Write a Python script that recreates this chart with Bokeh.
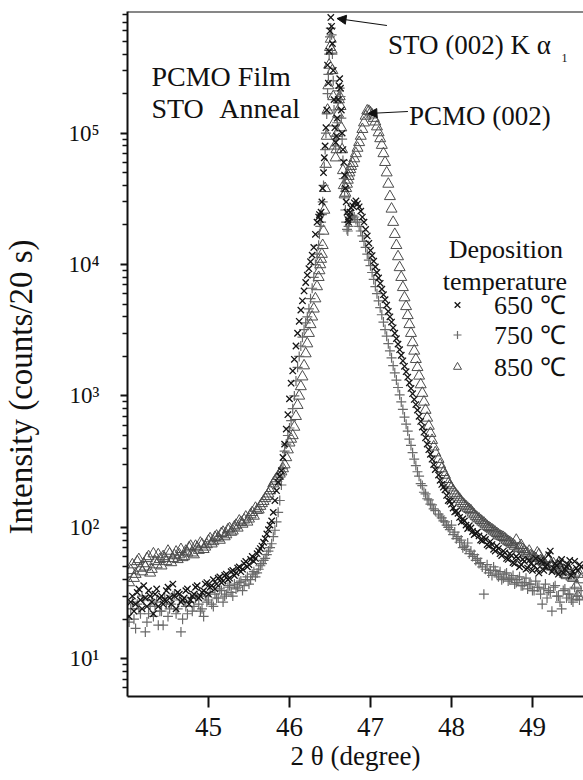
import numpy as np
from bokeh.plotting import figure
from bokeh.models import (Range1d, FixedTicker, CustomJSTickFormatter, Label, Arrow,
                          NormalHead, Span, Legend, LegendItem)
from bokeh.embed import file_html
from bokeh.resources import INLINE

# ---------------- data (2θ scan segments) ----------------
x_a = np.linspace(44.02, 45.78, 45)    # step 0.04
x_a2 = np.linspace(44.04, 45.76, 44)   # in-between scan points
x_b = np.linspace(45.80, 46.34, 28)    # step 0.02
x_c = np.linspace(46.36, 46.76, 41)    # step 0.01
x_d = np.linspace(46.78, 47.80, 52)    # step 0.02
x_e = np.linspace(47.84, 49.60, 45)    # step 0.04
x_e2 = np.linspace(47.86, 49.58, 44)   # in-between scan points

# 650 C
y650_a = [21, 30, 26, 34, 24, 29, 33, 27, 31, 25, 30, 28, 35, 26, 30, 32, 27, 29, 34, 28,
          31, 36, 30, 33, 38, 35, 40, 37, 42, 39, 44, 41, 47, 45, 50, 48, 55, 52, 60, 58,
          66, 72, 82, 96, 112]
y650_a2 = [27, 23, 32, 28, 36, 25, 30, 22, 34, 29, 26, 33, 29, 37, 24, 31, 28, 33, 26, 30,
           35, 29, 32, 37, 31, 36, 34, 41, 38, 43, 40, 46, 43, 49, 46, 53, 50, 57, 55, 63,
           69, 77, 89, 104]
y650_b = [130, 160, 190, 220, 245, 270, 340, 430, 560, 720, 950, 1250, 1550, 1900, 2400,
          3000, 3700, 4500, 5300, 6300, 7300, 8300, 9300, 10500, 11800, 13500, 17000, 21000]
y650_c = [23000, 24000, 22000, 25000, 30000, 38000, 50000, 65000, 80000, 110000,
          150000, 330000, 240000, 420000, 600000, 760000, 650000, 480000, 300000, 180000,
          110000, 85000, 95000, 130000, 180000, 230000, 260000, 220000, 150000, 100000,
          75000, 60000, 48000, 38000, 30000, 25000, 22000, 21000, 23000, 25000, 27000]
y650_d = [28000, 29500, 30500, 29000, 27500, 25500, 23000, 21000, 18500, 16500,
          14500, 12800, 11700, 10600, 9600, 8700, 7900, 7200, 6500, 5900,
          5400, 4900, 4400, 4000, 3650, 3300, 3000, 2730, 2480, 2250,
          2040, 1850, 1680, 1530, 1390, 1260, 1140, 1040, 940, 860,
          780, 700, 640, 580, 530, 480, 430, 390, 360, 330, 300, 275]
y650_e = [250, 212, 193, 160, 150, 131, 128, 110, 112, 98, 99, 88, 92, 80, 84, 74, 78, 68,
          72, 63, 66, 58, 63, 54, 60, 50, 57, 48, 56, 47, 58, 45, 55, 50, 62, 46, 53, 44,
          57, 48, 52, 43, 55, 47, 50]
y650_e2 = [228, 202, 175, 158, 140, 133, 119, 116, 104, 103, 93, 90, 86, 79, 81, 72, 74, 66,
           69, 61, 64, 57, 61, 53, 58, 52, 55, 49, 53, 51, 48, 56, 47, 52, 66, 49, 51, 54,
           45, 50, 56, 46, 49, 52]

# 750 C
y750_a = [19, 27, 17, 24, 30, 16, 22, 28, 25, 18, 23, 29, 21, 26, 31, 24, 16, 27, 22, 29,
          25, 30, 23, 21, 27, 32, 25, 29, 34, 27, 31, 36, 30, 34, 38, 33, 40, 37, 44, 42,
          48, 53, 58, 66, 75]
y750_a2 = [24, 20, 26, 22, 28, 19, 25, 21, 27, 23, 18, 26, 24, 30, 22, 28, 20, 25, 27, 23,
           29, 26, 24, 30, 28, 26, 31, 29, 33, 30, 35, 32, 37, 35, 39, 36, 42, 40, 46, 45,
           51, 56, 62, 70]
y750_b = [85, 95, 110, 130, 160, 210, 280, 380, 430, 500, 570, 650, 800, 1000, 1300,
          1650, 2000, 2400, 2800, 3200, 3600, 4000, 4600, 5500, 6600, 8000, 10000, 12000]
y750_c = [14000, 17000, 19500, 21000, 24000, 30000, 40000, 55000, 75000, 100000,
          140000, 200000, 280000, 400000, 540000, 630000, 560000, 400000, 250000, 150000,
          95000, 80000, 90000, 120000, 170000, 210000, 220000, 190000, 130000, 90000,
          62000, 45000, 33000, 26000, 21000, 18500, 18000, 19500, 21000, 22500, 23000]
y750_d = [23500, 23000, 22000, 21000, 19500, 18000, 16500, 15000, 13500, 12000,
          10800, 9800, 8700, 7700, 6800, 6000, 5300, 4700, 4150, 3650,
          3200, 2850, 2500, 2200, 1950, 1700, 1500, 1320, 1160, 1020,
          900, 790, 690, 610, 540, 470, 420, 370, 330, 295,
          265, 245, 215, 208, 185, 180, 165, 162, 150, 148, 138, 134]
y750_e = [126, 118, 110, 100, 104, 92, 85, 80, 72, 76, 66, 62, 58, 54, 31, 52, 47, 50, 44,
          46, 41, 45, 40, 43, 38, 42, 36, 41, 37, 33, 39, 35, 26, 37, 33, 23, 36, 30, 24,
          34, 31, 28, 35, 30, 33]
y750_e2 = [122, 112, 104, 96, 88, 82, 77, 70, 68, 63, 60, 56, 53, 50, 48, 45, 43, 47, 42,
           40, 44, 39, 41, 37, 40, 36, 38, 34, 37, 33, 35, 31, 34, 29, 32, 35, 30, 27, 33,
           29, 31, 27, 30, 28]

# 850 C
y850_a = [38, 52, 44, 57, 46, 50, 60, 48, 55, 62, 51, 58, 66, 54, 61, 57, 68, 60, 64, 72,
          62, 70, 76, 68, 74, 82, 78, 86, 80, 92, 88, 98, 94, 104, 112, 106, 120, 116, 130,
          140, 136, 152, 166, 180, 198]
y850_a2 = [47, 41, 55, 49, 53, 58, 45, 63, 52, 57, 60, 55, 63, 58, 65, 62, 59, 66, 70, 64,
           72, 67, 74, 71, 79, 75, 84, 83, 90, 85, 96, 92, 101, 99, 109, 114, 110, 125, 122,
           135, 145, 158, 172, 190]
y850_b = [215, 225, 235, 245, 255, 265, 280, 300, 340, 390, 440, 470, 500, 580, 700,
          850, 1000, 1180, 1400, 1700, 2100, 2500, 3000, 3500, 4000, 4600, 5500, 6800]
y850_c = [8000, 9000, 10000, 11000, 12000, 14000, 18000, 26000, 38000, 58000,
          95000, 150000, 230000, 330000, 450000, 520000, 430000, 300000, 190000, 120000,
          80000, 65000, 75000, 100000, 140000, 180000, 190000, 160000, 110000, 75000,
          52000, 40000, 34000, 35000, 38000, 41000, 44000, 47000, 50000, 53000, 56000]
y850_d = [59000, 64000, 70000, 77000, 85000, 95000, 107000, 120000, 135000, 148000,
          147000, 143000, 138000, 130000, 122000, 112000, 101000, 91000, 81000, 70000,
          60000, 50000, 41000, 33000, 26500, 21000, 17000, 14000, 11500, 9500,
          8000, 6700, 5600, 4800, 4100, 3500, 3000, 2550, 2200, 1900,
          1650, 1420, 1220, 1050, 900, 780, 680, 590, 520, 460, 410, 370]
y850_e = [330, 280, 250, 215, 200, 182, 170, 158, 148, 140, 134, 125, 118, 113, 108, 102,
          98, 94, 90, 86, 84, 80, 77, 74, 80, 70, 68, 64, 66, 60, 58, 62, 55, 52, 57, 50,
          48, 53, 46, 44, 49, 42, 45, 30, 40]
y850_e2 = [300, 262, 232, 208, 190, 176, 164, 152, 144, 137, 129, 121, 116, 110, 105, 100,
           96, 92, 88, 85, 82, 78, 75, 72, 69, 73, 66, 63, 61, 59, 64, 56, 54, 58, 51, 53,
           49, 47, 51, 43, 46, 41, 36, 44]

series_labels = ["650 \u2103", "750 \u2103", "850 \u2103"]
x_ticks = [45, 46, 47, 48, 49]
y_ticks = [10, 100, 1000, 10000, 100000]
y_tick_labels = ["10\u00b9", "10\u00b2", "10\u00b3", "10\u2074", "10\u2075"]

# ---------------- layout ----------------
W, H = 583, 780
LEFT, TOP, BOTTOM, RIGHT = 126, 11, 696, 583
X0, X1 = 44.0, 49.63
Y0, Y1 = 5.16, 8.43e5
FONT = "Liberation Serif"


def dx(px):
    return X0 + (px - LEFT) / (RIGHT - LEFT) * (X1 - X0)


def dy(py):
    l0, l1 = np.log10(Y0), np.log10(Y1)
    return 10 ** (l1 - (py - TOP) / (BOTTOM - TOP) * (l1 - l0))


x_all = np.concatenate([x_a, x_a2, x_b, x_c, x_d, x_e, x_e2])
y650 = y650_a + y650_a2 + y650_b + y650_c + y650_d + y650_e + y650_e2
y750 = y750_a + y750_a2 + y750_b + y750_c + y750_d + y750_e + y750_e2
y850 = y850_a + y850_a2 + y850_b + y850_c + y850_d + y850_e + y850_e2

p = figure(width=W, height=H, x_range=Range1d(X0, X1), y_range=Range1d(Y0, Y1),
           y_axis_type="log", output_backend="svg", toolbar_location=None,
           min_border_left=LEFT, min_border_right=0, min_border_top=TOP,
           min_border_bottom=H - BOTTOM)
p.grid.visible = False
p.outline_line_color = None
p.background_fill_color = "white"
p.border_fill_color = "white"

r850 = p.scatter(x=x_all, y=y850, marker="triangle", size=11, fill_color=None,
                 line_color="#4d4d4d", line_width=1.0)
r750 = p.scatter(x=x_all, y=y750, marker="cross", size=10,
                 line_color="#6a6a6a", line_width=1.2)
r650 = p.scatter(x=x_all, y=y650, marker="x", size=9,
                 line_color="#151515", line_width=1.3)

# axes
y_minor = [m * 10 ** e for e in range(0, 6) for m in range(2, 10)]
p.yaxis.ticker = FixedTicker(ticks=y_ticks, minor_ticks=y_minor)
p.yaxis.formatter = CustomJSTickFormatter(args=dict(tvals=y_ticks, tlabels=y_tick_labels), code="""
    for (let i = 0; i < tvals.length; i++) {
        if (Math.abs(Math.log10(tvals[i]) - Math.log10(tick)) < 1e-6) return tlabels[i];
    }
    return "";
""")
p.xaxis.ticker = FixedTicker(ticks=x_ticks)

for ax in (p.xaxis[0], p.yaxis[0]):
    ax.axis_line_width = 2
    ax.axis_line_color = "#111111"
    ax.major_tick_line_color = "#111111"
    ax.major_tick_line_width = 2
    ax.major_tick_in = 0
    ax.minor_tick_in = 0
    ax.major_label_text_font = FONT
    ax.major_label_text_color = "#111111"
    ax.axis_label_text_font = FONT
    ax.axis_label_text_font_style = "normal"
    ax.axis_label_text_color = "#111111"

p.xaxis.major_tick_out = 11
p.xaxis.minor_tick_line_color = None
p.xaxis.major_label_text_font_size = "27px"
p.xaxis.major_label_standoff = 10
p.xaxis.axis_label = "2 \u03b8 (degree)"
p.xaxis.axis_label_text_font_size = "27px"
p.xaxis.axis_label_standoff = 2

p.yaxis.major_tick_out = 7
p.yaxis.minor_tick_out = 5
p.yaxis.minor_tick_line_color = "#111111"
p.yaxis.minor_tick_line_width = 1.5
p.yaxis.major_label_text_font_size = "23px"
p.yaxis.major_label_standoff = 21
# trailing no-break spaces move the rotated title a little below the frame centre,
# where the reference has it
p.yaxis.axis_label = "Intensity (counts/20 s)" + "\u00a0" * 8
p.yaxis.axis_label_text_font_size = "33px"
p.yaxis.axis_label_standoff = 26

# top frame line
p.add_layout(Span(location=Y1, dimension="width", line_color="#111111", line_width=2))

# annotations
def add_text(txt, px, py, size):
    p.add_layout(Label(x=dx(px), y=dy(py), text=txt, text_font=FONT,
                       text_font_size=size, text_color="#111111",
                       text_baseline="alphabetic", text_align="left"))

add_text("PCMO Film", 150, 76, "28px")
add_text("STO", 150, 108, "28px")
add_text("Anneal", 218, 108, "28px")
add_text("STO (002) K \u03b1", 387, 44, "27px")
add_text("1", 561, 57, "12px")
add_text("PCMO (002)", 408, 115, "27px")
add_text("Deposition", 448, 249, "26px")
add_text("temperature", 442, 281, "26px")

p.add_layout(Arrow(x_start=dx(386), y_start=dy(25), x_end=dx(336), y_end=dy(18),
                   line_width=1.2, line_color="#111111",
                   end=NormalHead(size=9, fill_color="#111111", line_color="#111111")))
p.add_layout(Arrow(x_start=dx(407), y_start=dy(111), x_end=dx(367), y_end=dy(113),
                   line_width=1.2, line_color="#111111",
                   end=NormalHead(size=9, fill_color="#111111", line_color="#111111")))

# legend: one row per series, each placed at the reference row position
ITEM_H = 35
row_centers = [304, 335, 366]
for lab, rend, c in zip(series_labels, [r650, r750, r850], row_centers):
    lg = Legend(items=[LegendItem(label=lab, renderers=[rend])],
                location=(320, int(round(BOTTOM - c - ITEM_H / 2))), orientation="vertical",
                border_line_color=None, background_fill_alpha=0,
                padding=0, margin=0, spacing=0, glyph_width=20, glyph_height=27,
                label_height=27, label_standoff=27, label_text_font=FONT,
                label_text_font_size="26px", label_text_color="#111111")
    p.add_layout(lg)

open("out.html", "w").write(file_html(p, INLINE))
